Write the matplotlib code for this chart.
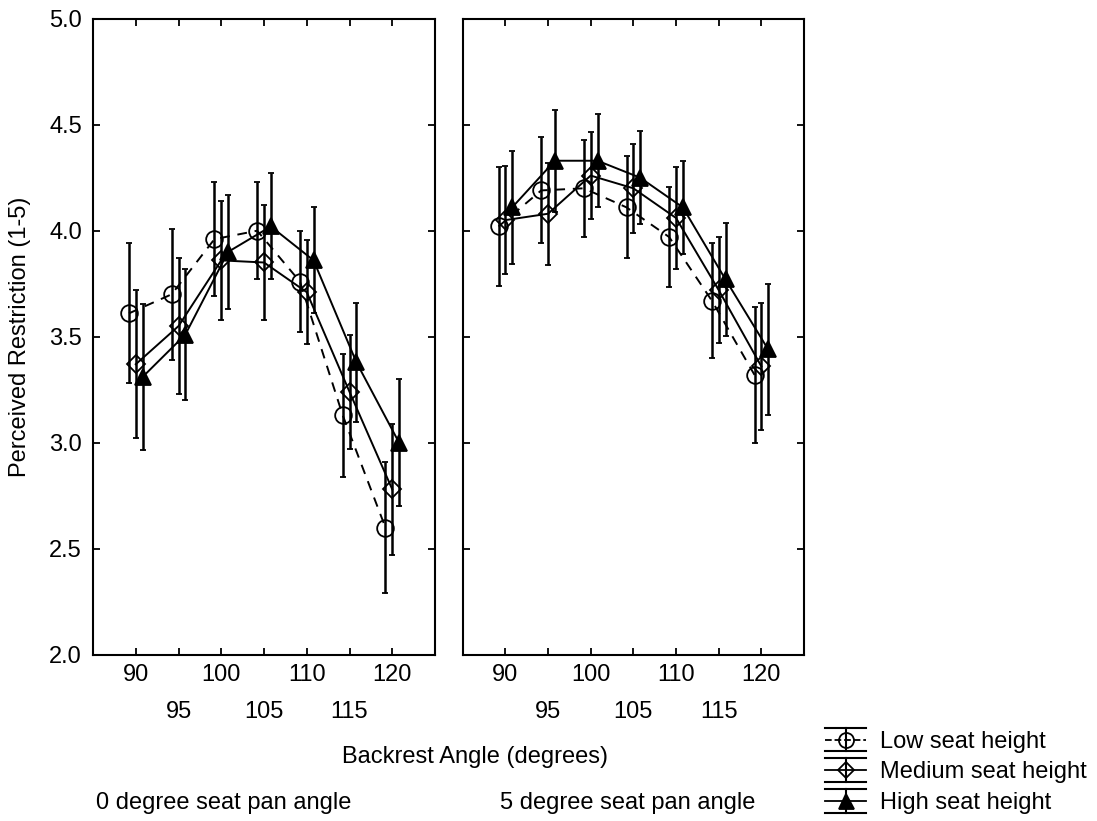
import matplotlib
matplotlib.use("Agg")
import matplotlib.pyplot as plt
from matplotlib.lines import Line2D
from matplotlib.legend_handler import HandlerBase
import numpy as np

plt.rcParams['font.family'] = ['Liberation Sans', 'DejaVu Sans']

angles = [90, 95, 100, 105, 110, 115, 120]
major_ticks = [90, 100, 110, 120]
minor_ticks = [95, 105, 115]

# 0 degree seat pan angle
low_0 = [3.61, 3.70, 3.96, 4.00, 3.76, 3.13, 2.60]
low_0_err = [0.33, 0.31, 0.27, 0.23, 0.24, 0.29, 0.31]
med_0 = [3.37, 3.55, 3.86, 3.85, 3.71, 3.24, 2.78]
med_0_err = [0.35, 0.32, 0.28, 0.27, 0.245, 0.27, 0.31]
high_0 = [3.31, 3.51, 3.90, 4.02, 3.86, 3.38, 3.00]
high_0_err = [0.345, 0.31, 0.27, 0.25, 0.25, 0.28, 0.30]

# 5 degree seat pan angle
low_5 = [4.02, 4.19, 4.20, 4.11, 3.97, 3.67, 3.32]
low_5_err = [0.28, 0.25, 0.23, 0.24, 0.235, 0.27, 0.32]
med_5 = [4.05, 4.08, 4.26, 4.20, 4.06, 3.72, 3.36]
med_5_err = [0.255, 0.24, 0.205, 0.21, 0.24, 0.25, 0.30]
high_5 = [4.11, 4.33, 4.33, 4.25, 4.11, 3.77, 3.44]
high_5_err = [0.265, 0.24, 0.22, 0.22, 0.22, 0.265, 0.31]

labels = ["Low seat height", "Medium seat height", "High seat height"]

FS = 17

# small horizontal shift so the bars don't overlap
shift = {"low": -0.8, "med": 0.0, "high": 0.8}
styles = {
    "low": dict(marker='o', ms=12, mfc='none', linestyle=(0, (5, 4))),
    "med": dict(marker='D', ms=9, mfc='none', linestyle='-'),
    "high": dict(marker='^', ms=12, mfc='black', linestyle='-'),
}


class ErrHandler(HandlerBase):
    def create_artists(self, legend, orig_handle, xdescent, ydescent,
                       width, height, fontsize, trans):
        x0 = -xdescent
        x1 = x0 + width
        xc = x0 + width / 2
        yc = -ydescent + height / 2
        dy = 8.5
        arts = []
        for yy in (yc - dy, yc + dy):
            arts.append(Line2D([x0, x1], [yy, yy], color='black', lw=1.5))
        arts.append(Line2D([xc, xc], [yc - dy, yc + dy], color='black', lw=1.5))
        arts.append(Line2D([x0, x1], [yc, yc], color='black', lw=1.3,
                           linestyle=orig_handle.get_linestyle()))
        arts.append(Line2D([xc], [yc], marker=orig_handle.get_marker(),
                           ms=orig_handle.get_markersize() * 0.9,
                           mfc=orig_handle.get_markerfacecolor(),
                           mec='black', mew=1.3, linestyle='none'))
        for a in arts:
            a.set_transform(trans)
        return arts


fig = plt.figure(figsize=(10.97, 8.21), dpi=100)
ax1 = fig.add_axes([93 / 1097, 1 - 654.7 / 821, 342 / 1097, 636 / 821])
ax2 = fig.add_axes([462.7 / 1097, 1 - 654.7 / 821, 341.3 / 1097, 636 / 821])

panels = [
    (ax1, {"low": (low_0, low_0_err), "med": (med_0, med_0_err), "high": (high_0, high_0_err)}),
    (ax2, {"low": (low_5, low_5_err), "med": (med_5, med_5_err), "high": (high_5, high_5_err)}),
]

for ax, series in panels:
    for key in ["low", "med", "high"]:
        vals, errs = series[key]
        x = np.array(angles) + shift[key]
        st = styles[key]
        ax.errorbar(x, vals, yerr=errs, color='black', lw=1.4,
                    marker=st["marker"], ms=st["ms"], mfc=st["mfc"], mec='black', mew=1.3,
                    linestyle=st["linestyle"], elinewidth=1.8, capsize=2.5, capthick=1.8)

    ax.set_xlim(85, 125)
    ax.set_ylim(2, 5)
    ax.set_xticks(major_ticks)
    ax.set_xticklabels([str(v) for v in major_ticks])
    ax.set_xticks(minor_ticks, minor=True)
    ax.set_xticklabels([str(v) for v in minor_ticks], minor=True)
    ax.set_yticks(np.arange(2.0, 5.01, 0.5))
    ax.set_yticklabels([f"{v:.1f}" for v in np.arange(2.0, 5.01, 0.5)])
    ax.tick_params(which='both', direction='in', top=True, right=True,
                   length=5, width=1.3, labelsize=FS)
    ax.tick_params(axis='x', which='major', pad=7)
    ax.tick_params(axis='x', which='minor', pad=33)
    ax.tick_params(axis='y', pad=8)
    for sp in ax.spines.values():
        sp.set_linewidth(1.5)

ax2.tick_params(axis='y', labelleft=False)

fig.text(20 / 1097, 1 - 337 / 821, "Perceived Restriction (1-5)", rotation=90,
         ha='center', va='center', fontsize=FS)
fig.text(475 / 1097, 1 - 757 / 821, "Backrest Angle (degrees)",
         ha='center', va='center', fontsize=FS)
fig.text(96 / 1097, 1 - 803 / 821, "0 degree seat pan angle",
         ha='left', va='center', fontsize=FS)
fig.text(500 / 1097, 1 - 803 / 821, "5 degree seat pan angle",
         ha='left', va='center', fontsize=FS)

handles = []
for key in ["low", "med", "high"]:
    st = styles[key]
    handles.append(Line2D([], [], color='black', marker=st["marker"], ms=st["ms"],
                          mfc=st["mfc"], linestyle=st["linestyle"]))

fig.legend(handles, labels, handler_map={Line2D: ErrHandler()},
           loc='upper left', bbox_to_anchor=(825 / 1097, 1 - 729 / 821),
           frameon=False, fontsize=FS, borderpad=0, borderaxespad=0,
           handlelength=1.75, handleheight=1.0, labelspacing=0.3, handletextpad=0.6)

fig.savefig("out.png", dpi=100, facecolor='white')
